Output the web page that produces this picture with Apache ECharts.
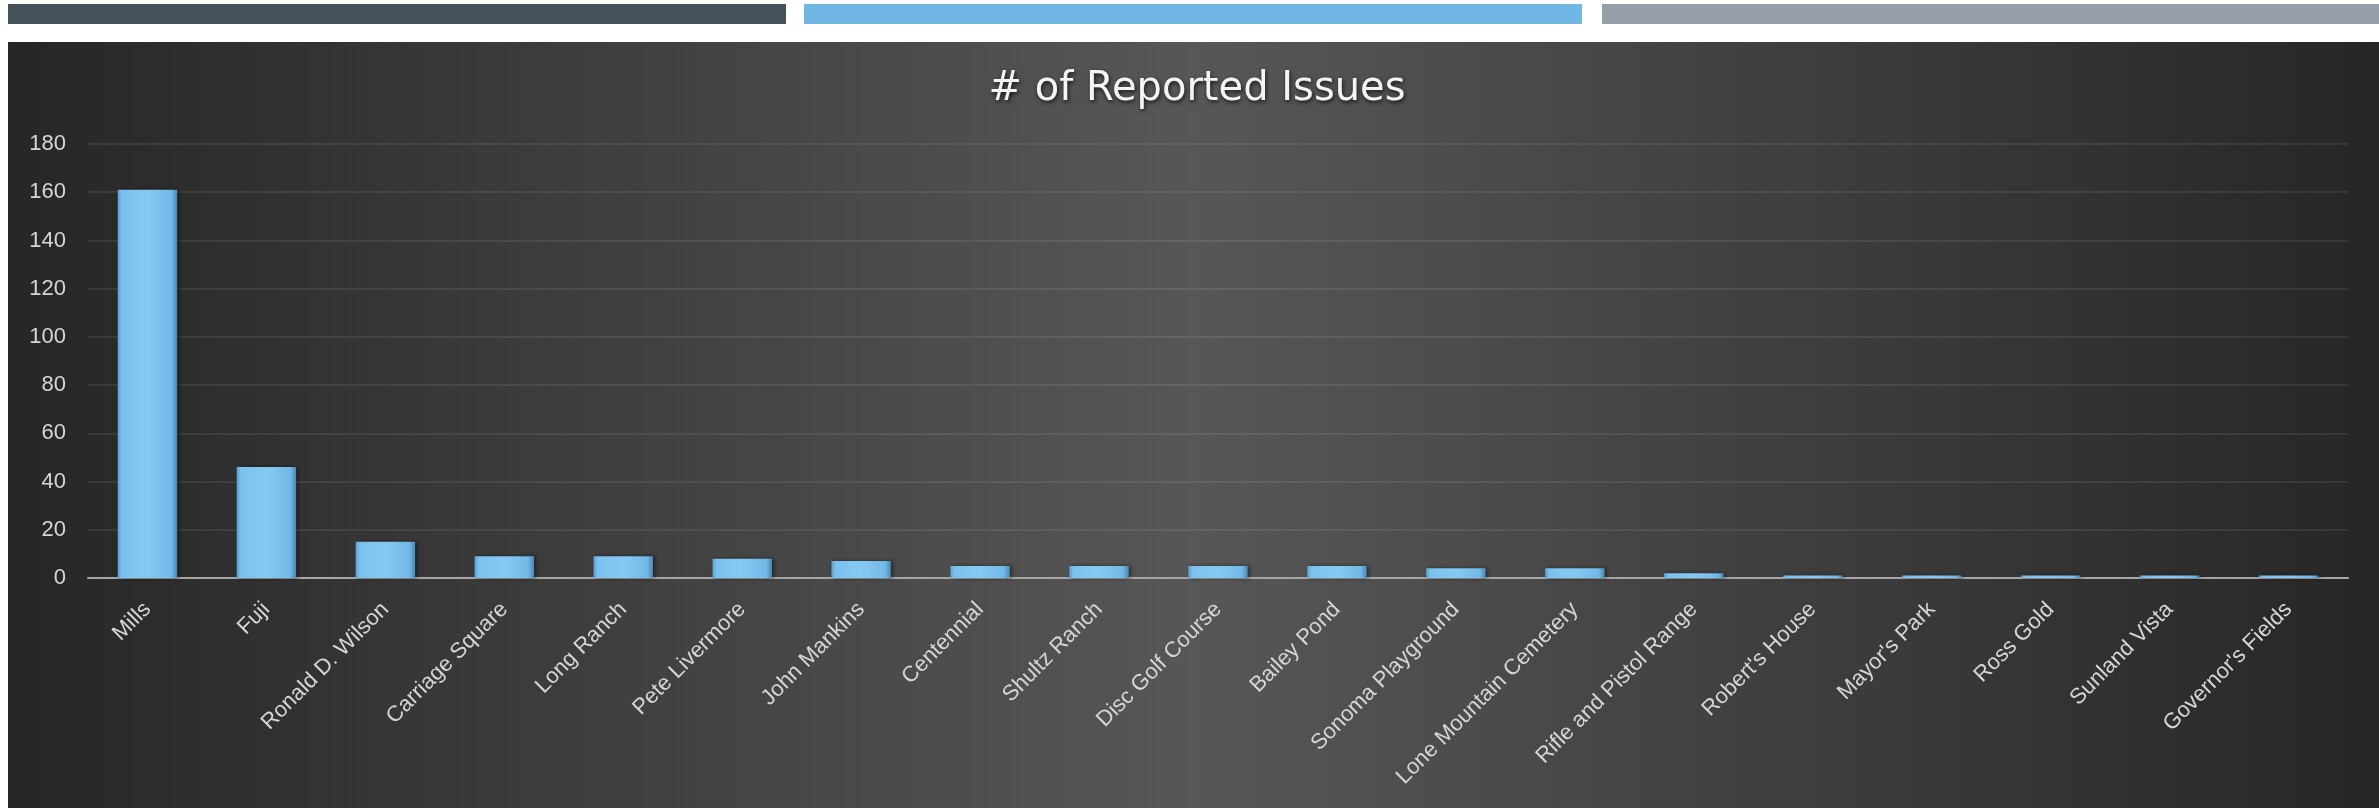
<!DOCTYPE html>
<html>
<head>
<meta charset="utf-8">
<script src="https://cdn.jsdelivr.net/npm/echarts@6/dist/echarts.min.js"></script>
<style>
html,body{margin:0;padding:0;background:#ffffff;}
#chart{width:2379px;height:808px;}
</style>
</head>
<body>
<div id="chart"></div>
<script>
var titleText = '# of Reported Issues';
var categories = ['Mills','Fuji','Ronald D. Wilson','Carriage Square','Long Ranch','Pete Livermore','John Mankins','Centennial','Shultz Ranch','Disc Golf Course','Bailey Pond','Sonoma Playground','Lone Mountain Cemetery','Rifle and Pistol Range',"Robert's House","Mayor's Park",'Ross Gold','Sunland Vista',"Governor's Fields"];
var issueCounts = [161,46,15,9,9,8,7,5,5,5,5,4,4,2,1,1,1,1,1];
var yTicks = [0,20,40,60,80,100,120,140,160,180];

var chart = echarts.init(document.getElementById('chart'), null, {renderer:'canvas'});
var option = {
  backgroundColor: '#ffffff',
  animation: false,
  graphic: [
    {type:'rect', z:-10, shape:{x:8,y:4,width:778,height:20}, style:{fill:'#44535b'}},
    {type:'rect', z:-10, shape:{x:804,y:4,width:778,height:20}, style:{fill:'#70b7e3'}},
    {type:'rect', z:-10, shape:{x:1602,y:4,width:777,height:20}, style:{fill:'#969ea9'}},
    {type:'rect', z:-10, shape:{x:8,y:42,width:2371,height:766},
      style:{fill:{type:'linear',x:0,y:0,x2:1,y2:0,colorStops:[
        {offset:0,color:'#262626'},{offset:0.5,color:'#575757'},{offset:1,color:'#262626'}]}}}
  ],
  title: {
    text: titleText,
    left: 1192, top: 65, textAlign: 'center',
    textStyle: {fontFamily:'DejaVu Sans', fontSize:40, fontWeight:'normal', color:'#f4f4f4',
      textShadowColor:'rgba(0,0,0,0.75)', textShadowBlur:4, textShadowOffsetX:1, textShadowOffsetY:2}
  },
  grid: {left:88, right:31, top:144, bottom:230, containLabel:false},
  xAxis: {
    type:'category', data: categories,
    axisLine:{show:true, lineStyle:{color:'#a6a6a6', width:2}},
    axisTick:{show:false},
    axisLabel:{rotate:45, interval:0, margin:28, color:'#d6d6d6', fontFamily:'Liberation Sans', fontSize:22}
  },
  yAxis: {
    type:'value', min:yTicks[0], max:yTicks[yTicks.length-1], interval:20,
    axisLine:{show:false}, axisTick:{show:false},
    axisLabel:{color:'#d6d6d6', fontFamily:'Liberation Sans', fontSize:22, margin:22},
    splitLine:{show:true, lineStyle:{color:'rgba(255,255,255,0.08)', width:2}}
  },
  series: [{
    type:'bar', data: issueCounts, barWidth:'50%',
    itemStyle:{
      color:{type:'linear',x:0,y:0,x2:1,y2:0,colorStops:[
        {offset:0,color:'#5a9fcd'},{offset:0.07,color:'#7cc1ee'},{offset:0.5,color:'#86c9f3'},
        {offset:0.9,color:'#72b9e8'},{offset:1,color:'#4a88b2'}]},
      borderWidth:0,
      shadowColor:'rgba(0,0,0,0.5)', shadowBlur:4, shadowOffsetX:2, shadowOffsetY:0
    }
  }]
};
chart.setOption(option);
</script>
</body>
</html>
